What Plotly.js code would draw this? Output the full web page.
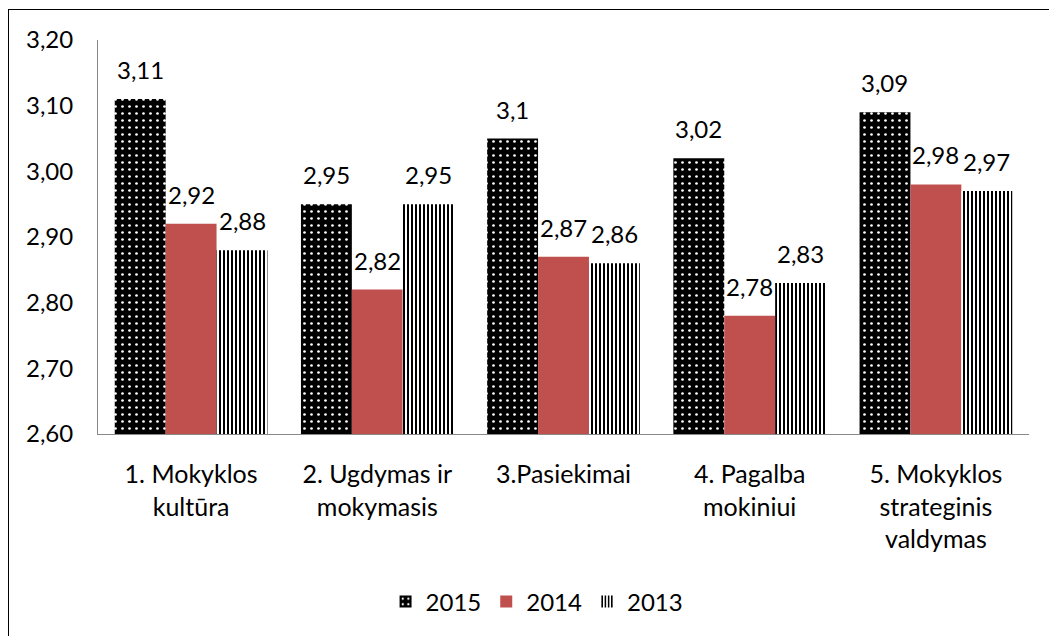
<!DOCTYPE html>
<html>
<head>
<meta charset="utf-8">
<script src="https://cdn.plot.ly/plotly-3.0.1.min.js"></script>
<style>
  html, body { margin: 0; padding: 0; background: #fff; }
  #wrap { position: relative; width: 1049px; height: 636px; overflow: hidden; }
  #chart { position: absolute; left: 0; top: 0; width: 1049px; height: 636px; }
  #frame { position: absolute; left: 8px; top: 9px; width: 1100px; height: 700px;
           border-left: 1px solid #000; border-top: 1px solid #000; pointer-events: none; }
</style>
</head>
<body>
<div id="wrap">
  <div id="chart"></div>
  <div id="frame"></div>
</div>
<script>
const categories = [
  "1. Mokyklos<br>kultūra",
  "2. Ugdymas ir<br>mokymasis",
  "3.Pasiekimai",
  "4. Pagalba<br>mokiniui",
  "5. Mokyklos<br>strateginis<br>valdymas"
];
const seriesNames = ["2015", "2014", "2013"];
const values2015 = [3.11, 2.95, 3.05, 3.02, 3.09];
const values2014 = [2.92, 2.82, 2.87, 2.78, 2.98];
const values2013 = [2.88, 2.95, 2.86, 2.83, 2.97];
const labels2015 = ["3,11", "2,95", "3,1", "3,02", "3,09"];
const labels2014 = ["2,92", "2,82", "2,87", "2,78", "2,98"];
const labels2013 = ["2,88", "2,95", "2,86", "2,83", "2,97"];
const yTicks = [2.6, 2.7, 2.8, 2.9, 3.0, 3.1, 3.2];

const FONT = "Lato, 'Liberation Sans', sans-serif";

const allValues = [values2015, values2014, values2013];
const allLabels = [labels2015, labels2014, labels2013];
const markers = [
  { color: '#000000', line: { width: 0 },
    pattern: { shape: '.', bgcolor: '#000000', fgcolor: '#ffffff', size: 7, solidity: 0.12, fillmode: 'replace' } },
  { color: '#C0504D', line: { width: 0 } },
  { color: '#ffffff', line: { width: 0 },
    pattern: { shape: '|', bgcolor: '#ffffff', fgcolor: '#000000', size: 4, solidity: 0.5, fillmode: 'replace' } }
];

const traces = allValues.map((vals, i) => ({
  type: 'bar',
  name: seriesNames[i],
  x: categories,
  y: vals,
  marker: markers[i],
  hoverinfo: 'skip'
}));

const barPx = 51;
const annotations = [];
allValues.forEach((vals, i) => {
  vals.forEach((v, j) => {
    annotations.push({
      x: categories[j], y: v, xref: 'x', yref: 'y',
      text: allLabels[i][j], showarrow: false,
      xanchor: 'center', yanchor: 'bottom',
      xshift: (i - 1) * barPx, yshift: 13,
      font: { family: FONT, size: 24, color: '#000' }
    });
  });
});

const layout = {
  width: 1049, height: 636,
  margin: { l: 98, r: 20, t: 40, b: 202 },
  paper_bgcolor: '#fff', plot_bgcolor: '#fff',
  barmode: 'group', bargap: 0.18, bargroupgap: 0,
  separators: ', ',
  font: { family: FONT, size: 24, color: '#000' },
  xaxis: {
    type: 'category',
    showline: true, linecolor: '#898989', linewidth: 1,
    showgrid: false, ticks: '', zeroline: false,
    tickfont: { family: FONT, size: 25, color: '#000' },
    ticklabelstandoff: 18,
    fixedrange: true
  },
  yaxis: {
    range: [2.6, 3.2],
    tickvals: yTicks, tickformat: '.2f',
    showline: true, linecolor: '#898989', linewidth: 1,
    showgrid: false, ticks: '', zeroline: false,
    tickfont: { family: FONT, size: 24, color: '#000' },
    ticklabelstandoff: 19,
    fixedrange: true
  },
  showlegend: true,
  legend: {
    orientation: 'h', x: 0.4716, xanchor: 'center', y: -0.426, yanchor: 'middle',
    font: { family: FONT, size: 24, color: '#000' },
    itemwidth: 30, traceorder: 'normal'
  },
  annotations: annotations
};

Plotly.newPlot('chart', traces, layout, { displayModeBar: false, staticPlot: true });
</script>
</body>
</html>
